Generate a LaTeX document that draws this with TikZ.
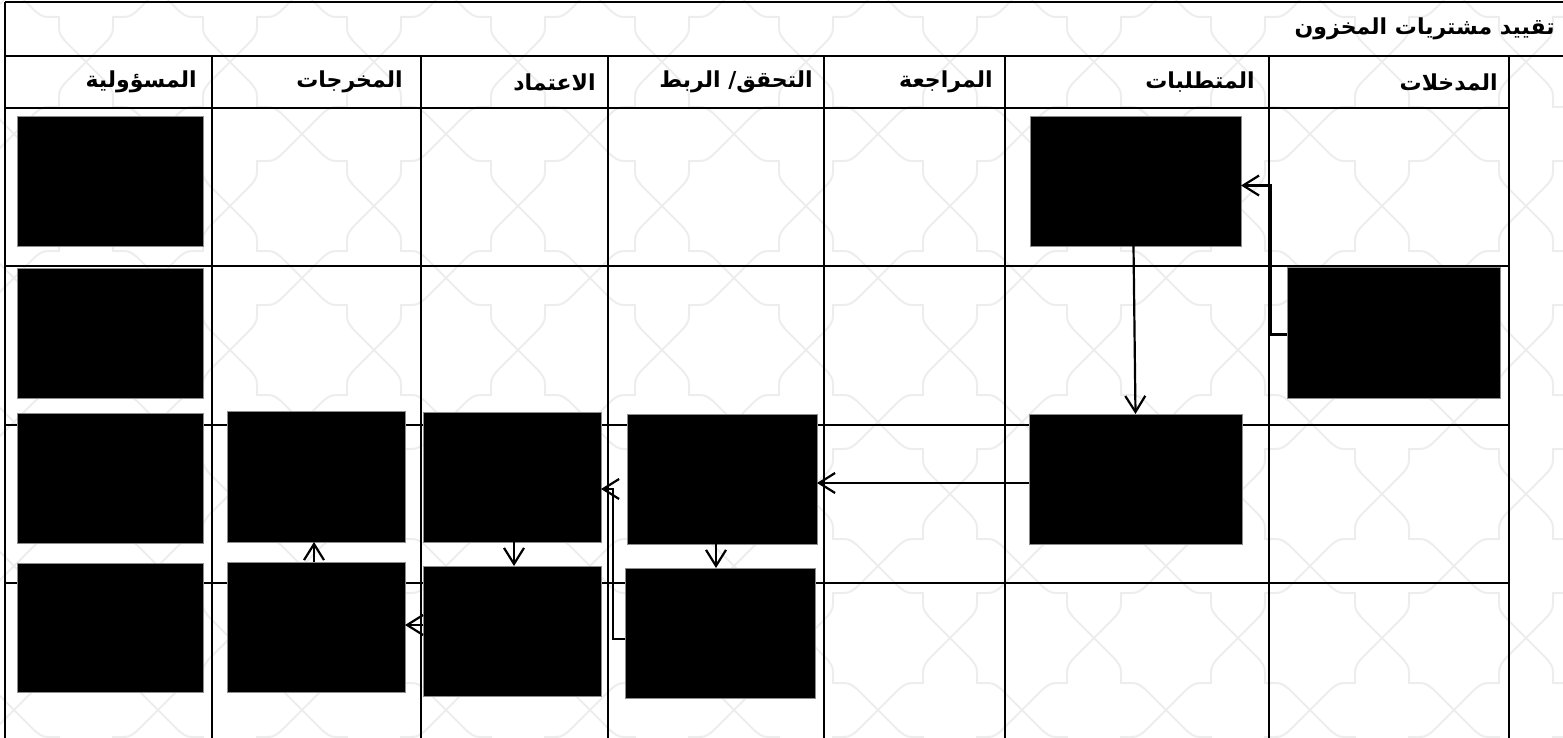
\documentclass[tikz,border=0pt]{standalone}
\usepackage{fontspec}
\usetikzlibrary{arrows.meta}
\newfontfamily\arabicfont[Script=Arabic]{DejaVu Sans}
\TeXXeTstate=1
\tikzset{
  grid/.style={line width=1.3pt, draw=black},
  blk/.style={draw=black!45, line width=0.5pt, fill=black, inner sep=0pt, outer sep=0pt},
  conn/.style={line width=1.1pt, draw=black, -{Straight Barb[length=8pt,width=10pt,line width=1.1pt]}},
  hdr/.style={anchor=east, inner sep=0pt, font=\arabicfont\bfseries\fontsize{11}{13}\selectfont},
  pat/.style={draw=black!7, line width=1pt},
}
\begin{document}
\begin{tikzpicture}[x=0.5pt, y=-0.5pt]
\useasboundingbox (0,0) rectangle (1563,738);
% background pattern
\begin{scope}
\clip (0,0) rectangle (1563,738);
\foreach \i in {-1,...,11}{
  \foreach \j in {0,...,5}{
    \pgfmathsetmacro{\cx}{86+144*\i}
    \pgfmathsetmacro{\cy}{-10+144*\j}
    \begin{scope}[shift={(\cx,\cy)}]
      \foreach \r in {0,90,180,270}{
        \draw[pat, rotate=\r] (0,72) -- (-18,54) .. controls (-24,48) and (-27,44) .. (-27,38) -- (-27,27) -- (-38,27) .. controls (-44,27) and (-48,24) .. (-54,18) -- (-72,0);
      }
    \end{scope}
  }
}
\end{scope}
% table
\draw[grid] (5,2) -- (1563,2);
\draw[grid] (5,2) -- (5,738);
\draw[grid] (5,56) -- (1563,56);
\draw[grid] (5,108) -- (1509,108);
\foreach \y in {266,425,583} \draw[grid] (5,\y) -- (1509,\y);
\foreach \x in {212,421,608,824,1005,1269,1509} \draw[grid] (\x,56) -- (\x,738);
% texts
\node[hdr] (title) at (1555,29) {\beginR تقييد مشتريات المخزون\endR};
\node[hdr] (h1) at (1498,82) {\beginR المدخلات\endR};
\node[hdr] (h2) at (1255,82) {\beginR المتطلبات\endR};
\node[hdr] (h3) at (993,82) {\beginR المراجعة\endR};
\node[hdr] (h4) at (813,82) {\beginR التحقق/ الربط\endR};
\node[hdr] (h5) at (596,82) {\beginR الاعتماد\endR};
\node[hdr] (h6) at (403,82) {\beginR المخرجات\endR};
\node[hdr] (h7) at (197,82) {\beginR المسؤولية\endR};
% boxes
\node[blk, minimum width=93pt, minimum height=64.5pt] (resp1) at (110,181.5) {};
\node[blk, minimum width=93pt, minimum height=65pt] (resp2) at (110,333) {};
\node[blk, minimum width=93pt, minimum height=65pt] (resp3) at (110,478) {};
\node[blk, minimum width=93pt, minimum height=64.5pt] (resp4) at (110,627.5) {};
\node[blk, minimum width=105.5pt, minimum height=64.5pt] (req1) at (1135.5,181.5) {};
\node[blk, minimum width=106.5pt, minimum height=65.5pt] (in1) at (1393.5,332.5) {};
\node[blk, minimum width=89pt, minimum height=65.5pt] (out3) at (316,476.5) {};
\node[blk, minimum width=89pt, minimum height=65pt] (app3) at (512,477) {};
\node[blk, minimum width=95pt, minimum height=65pt] (ver3) at (722,479) {};
\node[blk, minimum width=106.5pt, minimum height=65pt] (req3) at (1135.5,479) {};
\node[blk, minimum width=89pt, minimum height=65pt] (out4) at (316,627) {};
\node[blk, minimum width=89pt, minimum height=65pt] (app4) at (512,631) {};
\node[blk, minimum width=95pt, minimum height=65pt] (ver4) at (720,633) {};
% connectors
\draw[conn] ([yshift=-1pt]in1.west) -- ++(-16,0) |- ([yshift=-2pt]req1.east);
\draw[conn] ([xshift=-1pt]req1.south) -- (req3.north);
\draw[conn] ([yshift=-2pt]req3.west) -- ([yshift=-2pt]req3.west -| ver3.east);
\draw[conn] ([xshift=-3pt]ver3.south) -- ([xshift=-3pt]ver3.south |- ver4.north);
\draw[conn] ([yshift=-3pt]ver4.west) -- ++(-12,0) |- ([yshift=-6pt]app3.east);
\draw[conn] ([xshift=1pt]app3.south) -- ([xshift=1pt]app3.south |- app4.north);
\draw[conn] ([yshift=3pt]app4.west) -- ([yshift=3pt]app4.west -| out4.east);
\draw[conn] ([xshift=-1pt]out4.north) -- ([xshift=-1pt]out4.north |- out3.south);
\end{tikzpicture}
\end{document}
